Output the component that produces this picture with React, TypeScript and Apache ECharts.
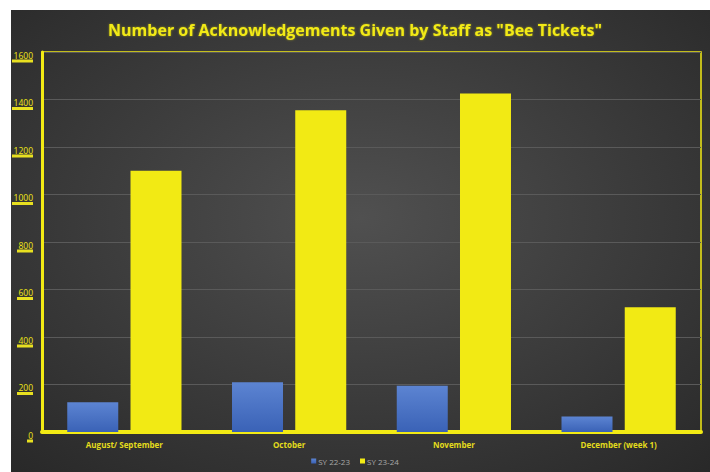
import React, { useEffect, useRef } from "react";
import * as echarts from "echarts";

const categories = ["August/ September", "October", "November", "December (week 1)"];
const sy2223 = [125, 210, 195, 65];
const sy2324 = [1100, 1355, 1425, 525];
const seriesNames = ["SY 22-23", "SY 23-24"];
const titleText = 'Number of Acknowledgements Given by Staff as "Bee Tickets"';

export default function App() {
  const ref = useRef<HTMLDivElement>(null);
  useEffect(() => {
    document.body.style.margin = "0";
    const chart = echarts.init(ref.current!, null, { renderer: "svg" });
    const yellow = "#f2ea14";
    const rich: any = {
      n: { color: yellow, fontSize: 8.5, fontFamily: "Open Sans", lineHeight: 9, align: "right" },
    };
    [1, 3, 4].forEach((k) => {
      rich["u" + k] = { backgroundColor: "#e8e020", height: 3, width: k * 5 + 1, align: "right" };
    });
    chart.setOption({
      animation: false,
      backgroundColor: "#ffffff",
      graphic: [
        {
          type: "rect",
          z: -10,
          silent: true,
          shape: { x: 11, y: 10, width: 699, height: 462 },
          style: {
            fill: {
              type: "radial",
              x: 0.5,
              y: 0.45,
              r: 0.75,
              colorStops: [
                { offset: 0, color: "#505050" },
                { offset: 1, color: "#282828" },
              ],
            },
          },
        },
      ],
      title: {
        text: titleText,
        left: "center",
        top: 17,
        textStyle: {
          color: yellow,
          fontFamily: "Open Sans",
          fontWeight: "bold",
          fontSize: 16,
          textShadowColor: "rgba(242,234,20,0.5)",
          textShadowBlur: 2,
        },
      },
      legend: {
        bottom: 2,
        left: "center",
        itemWidth: 5,
        itemHeight: 5,
        itemGap: 10,
        icon: "rect",
        textStyle: { color: "#a8a8a8", fontSize: 8, fontFamily: "Open Sans", padding: [0, 0, 0, -3] },
        data: seriesNames,
      },
      grid: {
        left: 42,
        right: 9,
        top: 52,
        bottom: 40,
        show: true,
        borderColor: yellow,
        borderWidth: 1.5,
        backgroundColor: "transparent",
      },
      xAxis: {
        type: "category",
        data: categories,
        axisLine: { lineStyle: { color: yellow, width: 4 } },
        axisTick: { show: false },
        axisLabel: { color: "#e4dc1c", fontSize: 8, fontFamily: "Open Sans", fontWeight: "bold", margin: 8 },
      },
      yAxis: {
        type: "value",
        min: 0,
        max: 1600,
        interval: 200,
        axisLine: { show: true, lineStyle: { color: yellow, width: 3 } },
        axisTick: { show: false },
        splitLine: { lineStyle: { color: "#5a5a5a", width: 1 } },
        axisLabel: {
          margin: 9,
          padding: [9, 0, 0, 0],
          formatter: (v: number) => {
            const s = String(v);
            return "{n|" + s + "}\n{u" + s.length + "|}";
          },
          rich,
        },
      },
      series: [
        {
          name: seriesNames[0],
          type: "bar",
          data: sy2223,
          barWidth: 51,
          barGap: "24%",
          itemStyle: {
            color: {
              type: "linear",
              x: 0, y: 0, x2: 0, y2: 1,
              colorStops: [
                { offset: 0, color: "#5c84d2" },
                { offset: 1, color: "#3a62b6" },
              ],
            },
          },
        },
        {
          name: seriesNames[1],
          type: "bar",
          data: sy2324,
          barWidth: 51,
          itemStyle: { color: yellow },
        },
      ],
    });
    return () => chart.dispose();
  }, []);
  return <div ref={ref} style={{ width: 710, height: 472 }} />;
}
